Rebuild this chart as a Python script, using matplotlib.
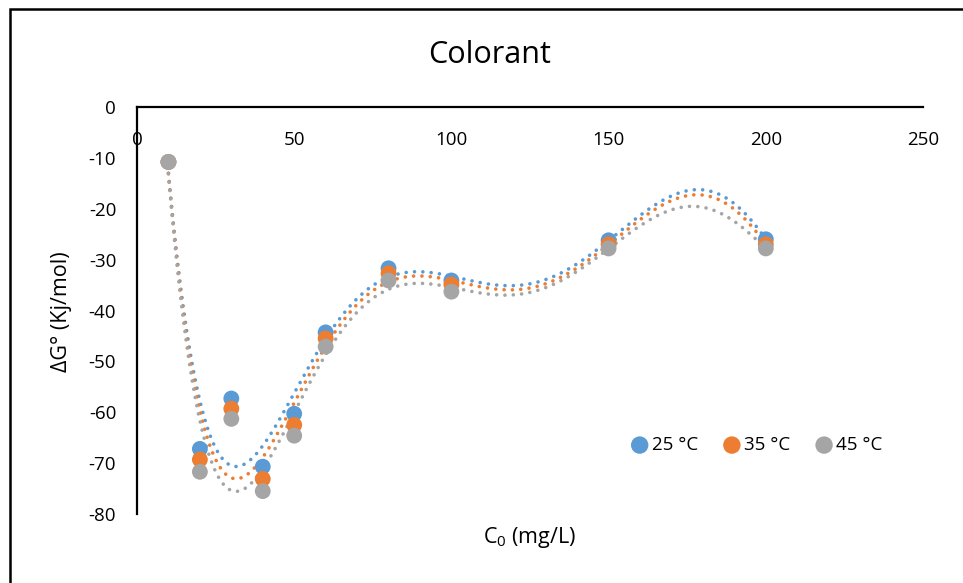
import numpy as np
import matplotlib
matplotlib.use("Agg")
import matplotlib.pyplot as plt
from matplotlib.patches import Rectangle

plt.rcParams['font.family'] = ['Open Sans', 'DejaVu Sans']
plt.rcParams['mathtext.fontset'] = 'custom'
plt.rcParams['mathtext.rm'] = 'Open Sans'
plt.rcParams['mathtext.it'] = 'Open Sans'
plt.rcParams['axes.unicode_minus'] = False

# Data
c0 = [10, 20, 30, 40, 50, 60, 80, 100, 150, 200]
dg_25 = [-10.8, -67.2, -57.3, -70.7, -60.3, -44.3, -31.7, -34.1, -26.2, -26.0]
dg_35 = [-10.8, -69.3, -59.3, -73.1, -62.5, -45.5, -32.7, -34.9, -27.0, -27.0]
dg_45 = [-10.8, -71.7, -61.3, -75.5, -64.6, -47.1, -34.1, -36.3, -27.8, -27.8]
labels = ['25 °C', '35 °C', '45 °C']
colors = ['#5B9BD5', '#ED7D31', '#A5A5A5']
xticks = [0, 50, 100, 150, 200, 250]
yticks = [0, -10, -20, -30, -40, -50, -60, -70, -80]

W, H = 963, 583
fig = plt.figure(figsize=(W / 100, H / 100), dpi=100)
ax = fig.add_axes([137 / W, (H - 514) / H, (923 - 137) / W, (514 - 107) / H])

x = np.array(c0, dtype=float)
xs = np.linspace(x.min(), x.max(), 400)
series = [dg_25, dg_35, dg_45]
for ys, col in zip(series, colors):
    coef = np.polyfit(x, np.array(ys), 6)
    ax.plot(xs, np.polyval(coef, xs), color=col, lw=2.6,
            linestyle=(0, (0.01, 2.3)), dash_capstyle='round', zorder=2)
for ys, col, lab in zip(series, colors, labels):
    ax.scatter(x, ys, s=130, color=col, label=lab, zorder=3, edgecolors='none')

ax.set_xlim(0, 250)
ax.set_ylim(-80, 0)
ax.set_xticks(xticks)
ax.set_yticks(yticks)
ax.spines['right'].set_visible(False)
ax.spines['top'].set_visible(False)
ax.spines['bottom'].set_position(('data', 0))
ax.spines['left'].set_linewidth(1.6)
ax.spines['bottom'].set_linewidth(1.6)
ax.tick_params(axis='both', length=0, labelsize=13.5)
ax.tick_params(axis='x', pad=17)
ax.tick_params(axis='y', pad=15)

fig.text(530 / W, 1 - 538 / H, r'C$_0$ (mg/L)', ha='center', va='center', fontsize=15.5)
fig.text(62 / W, 1 - 312 / H, 'ΔG° (Kj/mol)', ha='center', va='center',
         rotation=90, fontsize=15.5)
fig.text(490 / W, 1 - 55 / H, 'Colorant', ha='center', va='center', fontsize=22)

leg = ax.legend(loc='center', bbox_to_anchor=((756 - 137) / (923 - 137), (514 - 445) / (514 - 107)),
                ncol=3, frameon=False, fontsize=13.5, handletextpad=0.1,
                columnspacing=1.25, markerscale=1.1, handlelength=1.1)

fig.patches.append(Rectangle((10 / W, -0.1), 1.2, 1.1 - 9 / H, transform=fig.transFigure,
                             fill=False, edgecolor='black', lw=1.8, zorder=10))

fig.savefig('out.png', dpi=100)
